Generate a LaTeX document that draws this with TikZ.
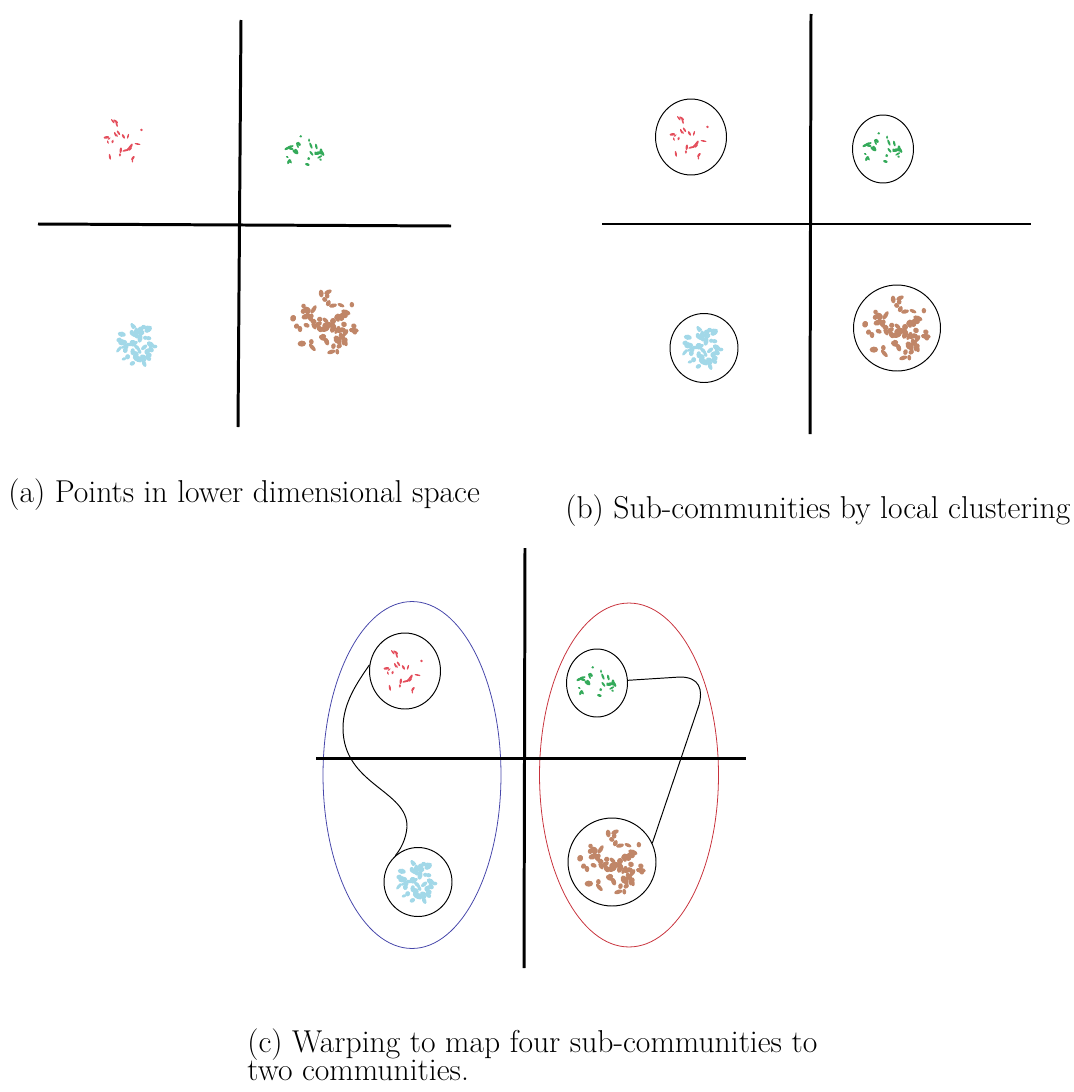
\documentclass[tikz,border=0pt]{standalone}
\usetikzlibrary{calc,shapes.geometric}

\definecolor{ptred}{RGB}{228,78,92}
\definecolor{ptgreen}{RGB}{52,170,90}
\definecolor{ptcyan}{RGB}{162,216,232}
\definecolor{ptbrown}{RGB}{192,134,104}
\definecolor{commblue}{RGB}{70,70,170}
\definecolor{commred}{RGB}{200,50,60}

% caption font: tight line spacing, always the fixed baseline skip
\newcommand\capfont{\fontsize{18pt}{15.4pt}\selectfont\lineskiplimit=-20pt\relax}

% scatter of small blobs round a named centre:
% #1 centre, #2 radius, #3 colour, #4 count, #5 seed, #6 blob length, #7 blob width
\newcommand\blobcloud[7]{%
  \pgfmathsetseed{#5}%
  \foreach \k in {1,...,#4}{%
    \pgfmathsetmacro\bang{360*rnd}%
    \pgfmathsetmacro\bdist{#2*sqrt(rnd)}%
    \pgfmathsetmacro\brot{360*rnd}%
    \pgfmathsetmacro\blen{#6*(0.6+0.8*rnd)}%
    \pgfmathsetmacro\bwid{#7*(0.7+0.6*rnd)}%
    \coordinate (bp) at ($(#1)+(\bang:\bdist)$);
    \fill[#3, rotate around={\brot:(bp)}] (bp) ellipse [x radius=\blen*0.02cm, y radius=\bwid*0.02cm];
  }%
}
\newcommand\redcloud[1]{\blobcloud{#1}{23}{ptred}{24}{11}{2.3}{1.1}}
\newcommand\greencloud[1]{\blobcloud{#1}{19}{ptgreen}{26}{23}{2.4}{1.3}}
\newcommand\cyancloud[1]{\blobcloud{#1}{20}{ptcyan}{55}{37}{3.4}{2.1}}
\newcommand\browncloud[1]{\blobcloud{#1}{33}{ptbrown}{62}{41}{3.6}{2.4}}

\begin{document}
\begin{tikzpicture}[x=0.02cm,y=-0.02cm,
  axis/.style={line width=1.7pt},
  subcomm/.style={draw, ellipse, line width=0.55pt, inner sep=0pt},
  community/.style={draw, ellipse, line width=0.45pt, inner sep=0pt},
  warp/.style={line width=0.55pt},
  caption/.style={anchor=base west, inner sep=0pt, align=left, font=\capfont}]
\useasboundingbox (0,0) rectangle (1074,1092);

% ---------- (a) points in the plane ----------
\coordinate (aT) at (241,20);  \coordinate (aB) at (238,427);
\coordinate (aL) at (38,224);  \coordinate (aR) at (451,226);
\draw[axis] (aT) -- (aB);
\draw[axis] (aL) -- (aR);
\coordinate (aRed) at (125,140);
\coordinate (aGreen) at (305,152);
\coordinate (aCyan) at (138,345);
\coordinate (aBrown) at (325,322);
\redcloud{aRed}
\greencloud{aGreen}
\cyancloud{aCyan}
\browncloud{aBrown}
\node[caption] (capa) at (8,502) {(a) Points in lower dimensional space};

% ---------- (b) local clustering ----------
\coordinate (bT) at (811,14);  \coordinate (bB) at (810,434);
\coordinate (bL) at (602,224); \coordinate (bR) at (1031,224);
\draw[axis] (bT) -- (bB);
\draw[axis] (bL) -- (bR);
\node[subcomm, minimum width=1.42cm, minimum height=1.52cm] (bRed) at (691,137) {};
\node[subcomm, minimum width=1.22cm, minimum height=1.36cm] (bGreen) at (883,149) {};
\node[subcomm, minimum width=1.36cm, minimum height=1.38cm] (bCyan) at (704,348) {};
\node[subcomm, minimum width=1.74cm, minimum height=1.72cm] (bBrown) at (897,328) {};
\redcloud{bRed}
\greencloud{bGreen}
\cyancloud{bCyan}
\browncloud{bBrown}
\node[caption] (capb) at (565,518) {(b) Sub-communities by local clustering};

% ---------- (c) warping into two communities ----------
\coordinate (cT) at (525,548); \coordinate (cB) at (524,968);
\coordinate (cL) at (316,758); \coordinate (cR) at (746,758);
\node[community, draw=commblue, minimum width=3.56cm, minimum height=6.94cm] (blueComm) at (412,775) {};
\node[community, draw=commred, minimum width=3.58cm, minimum height=6.88cm] (redComm) at (629,775) {};
\draw[axis] (cT) -- (cB);
\draw[axis] (cL) -- (cR);
\node[subcomm, minimum width=1.42cm, minimum height=1.52cm] (cRed) at (405,671) {};
\node[subcomm, minimum width=1.22cm, minimum height=1.36cm] (cGreen) at (597,683) {};
\node[subcomm, minimum width=1.36cm, minimum height=1.38cm] (cCyan) at (418,882) {};
\node[subcomm, minimum width=1.76cm, minimum height=1.76cm] (cBrown) at (612,862) {};
\redcloud{cRed}
\greencloud{cGreen}
\cyancloud{cCyan}
\browncloud{cBrown}
\draw[warp] (cRed.170) .. controls (357,683) and (343,703) .. (343,728)
  .. controls (343,785) and (408,790) .. (407,827)
  .. controls (406,840) and (400,850) .. (cCyan.131);
\draw[warp] (cGreen.5) -- (680,677) .. controls (700,677) and (703,690) .. (699,705)
  -- (cBrown.25);
\node[caption] (capc) at (247,1080) {(c) Warping to map four sub-communities to\\two communities.};
\end{tikzpicture}
\end{document}
